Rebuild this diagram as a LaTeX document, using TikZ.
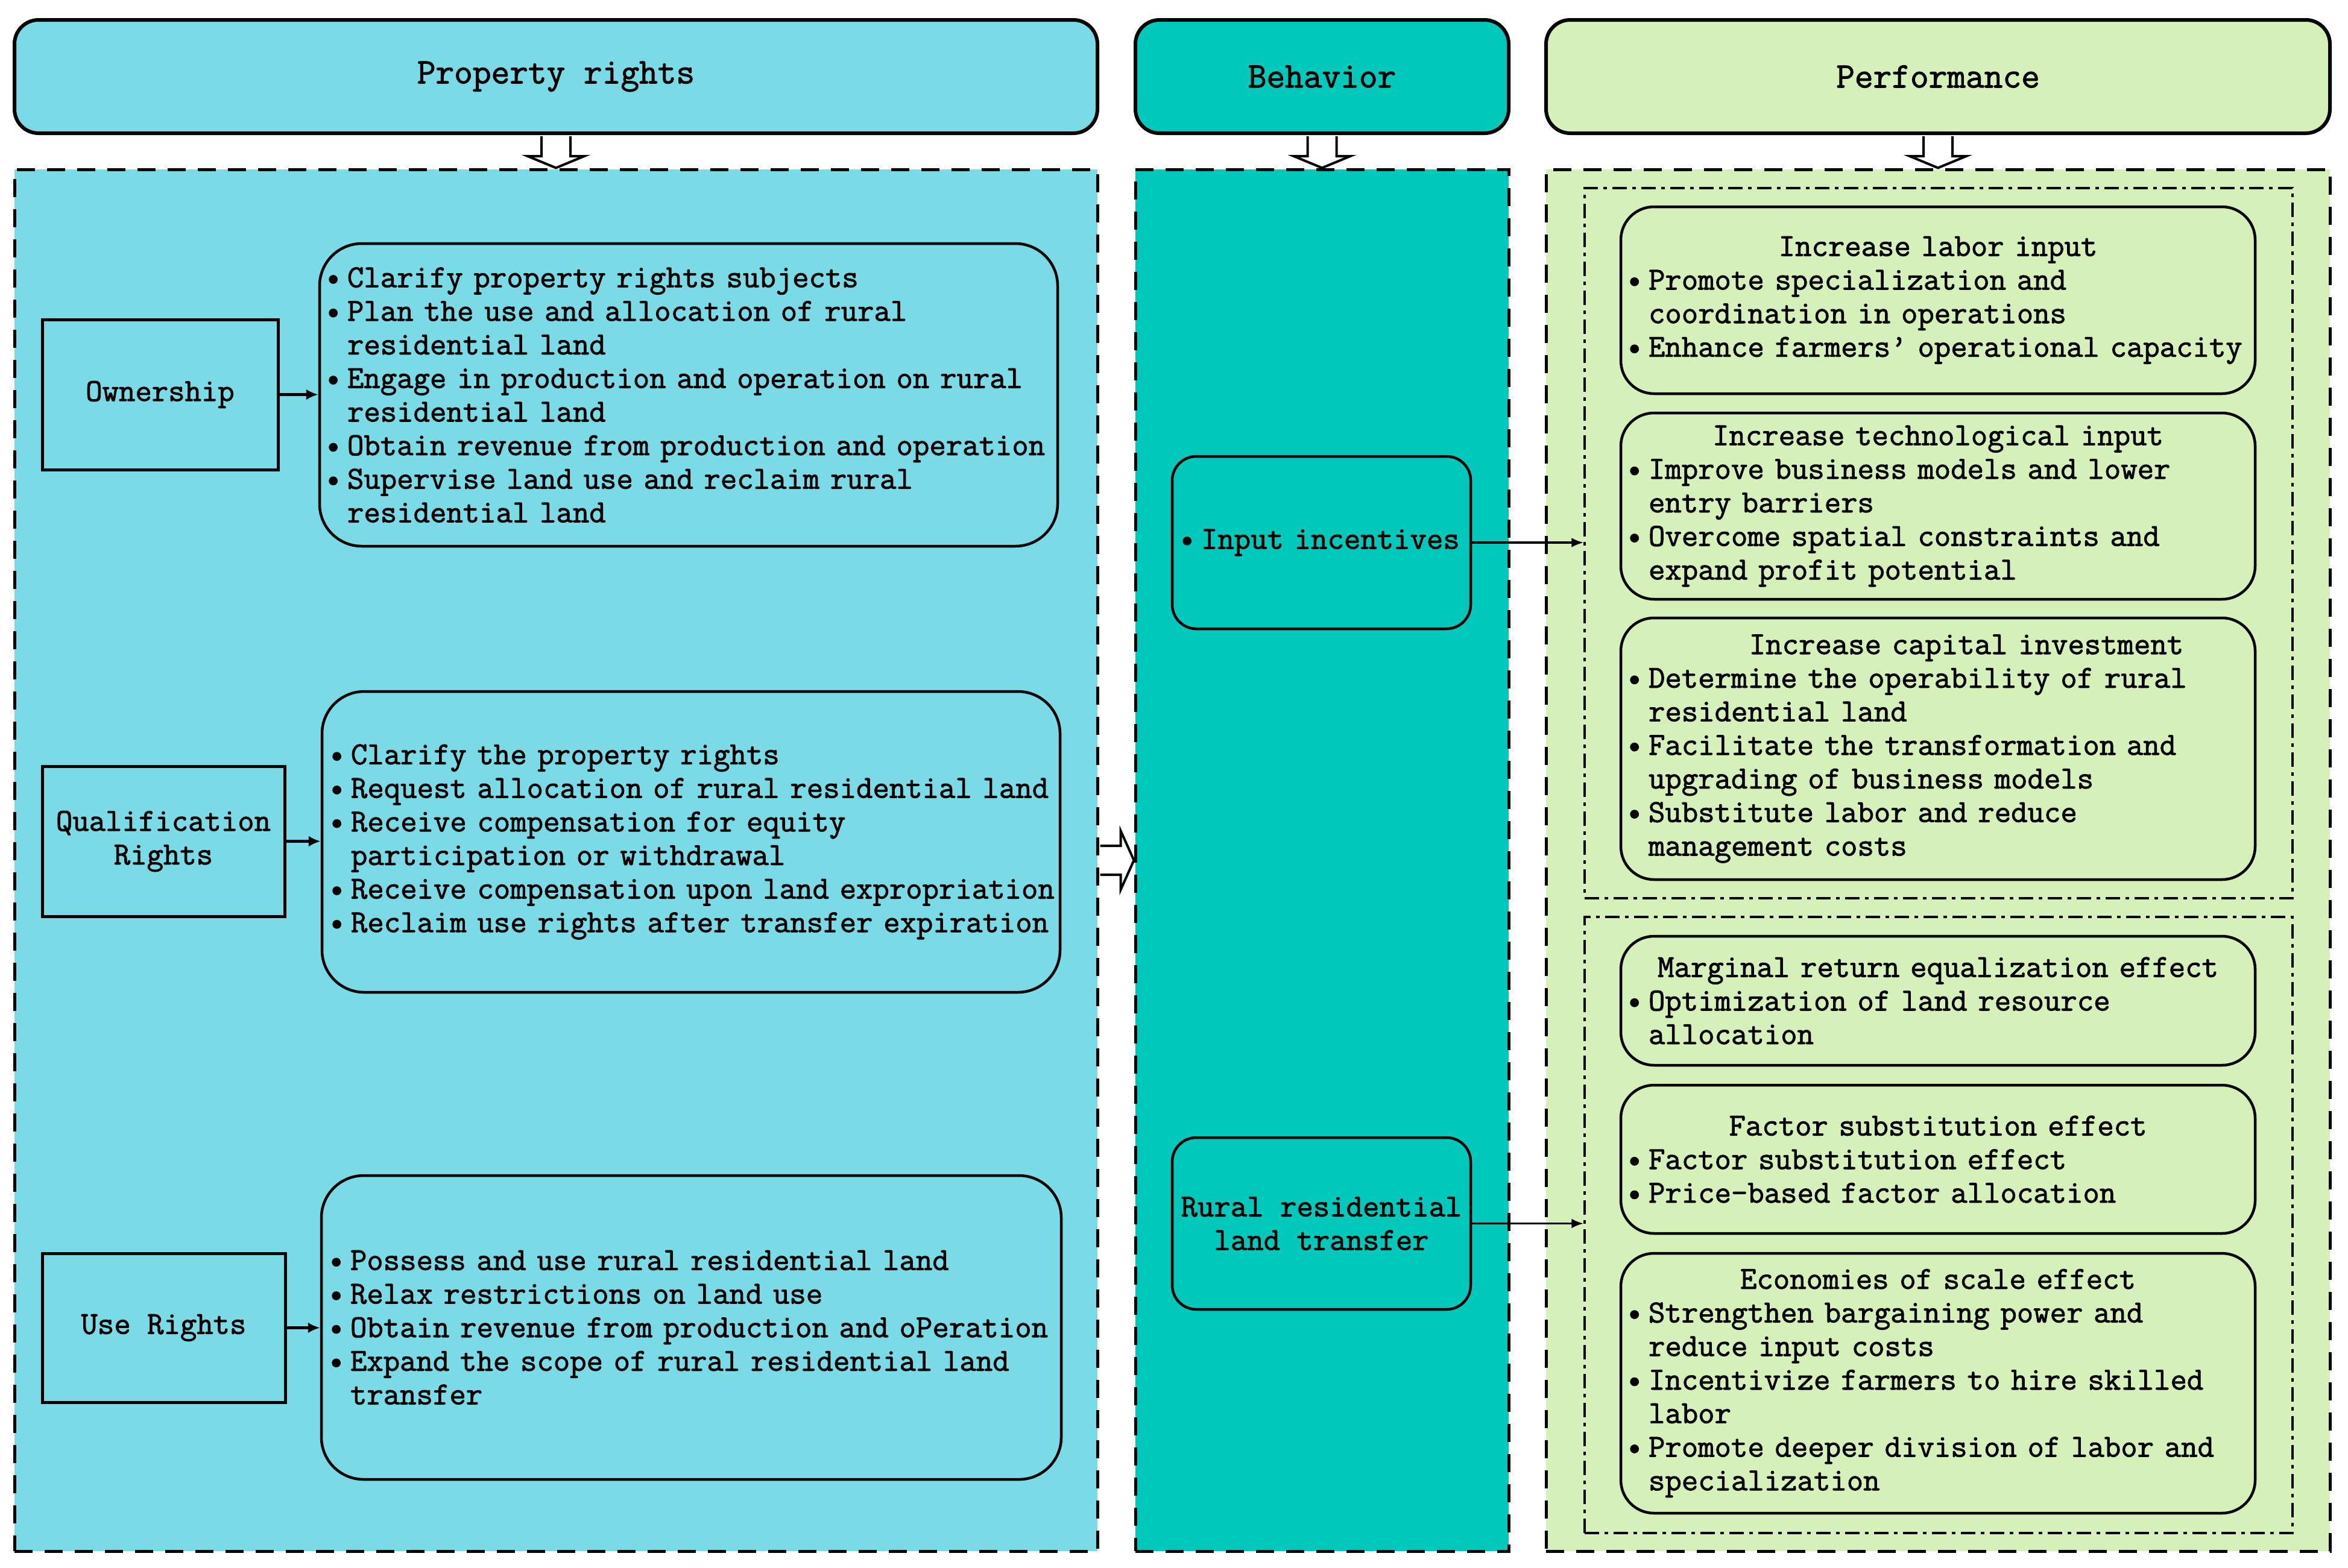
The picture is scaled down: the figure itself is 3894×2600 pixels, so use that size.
\documentclass[tikz,border=0pt]{standalone}
\usepackage{fontspec}
\setmonofont{Latin Modern Mono}[FakeBold=1.8]
\usetikzlibrary{arrows.meta,calc}
\definecolor{cPR}{RGB}{122,218,230}
\definecolor{cBH}{RGB}{0,201,187}
\definecolor{cPF}{RGB}{214,240,186}
\newlength\bw \setlength\bw{40pt}
\newcommand\bul{\makebox[\bw][l]{\hspace*{3pt}•}}
\newcommand\ind{\hspace*{\bw}}
\newcommand\ttl[1]{\makebox[1040pt][c]{#1}}
\newcommand\bodyfont{\ttfamily\fontsize{53.2pt}{55.7pt}\selectfont}
\newcommand\headfont{\ttfamily\fontsize{59.6pt}{64pt}\selectfont}
\tikzset{
  header/.style={draw, line width=6pt, rounded corners=40pt, font=\headfont, inner sep=0pt},
  panel/.style={draw, line width=5pt, dash pattern=on 30pt off 20pt, inner sep=0pt},
  group/.style={draw, line width=3.5pt, dash pattern=on 24pt off 9pt on 6pt off 9pt, inner sep=0pt},
  rbox/.style={draw, line width=5pt, align=center, font=\bodyfont, fill=cPR, inner sep=0pt},
  cbox/.style={draw, line width=4.5pt, rounded corners=70pt, align=left, inner xsep=6pt, inner ysep=0pt, font=\bodyfont, fill=cPR},
  pbox/.style={draw, line width=4.5pt, rounded corners=55pt, align=left, inner xsep=6pt, inner ysep=0pt, font=\bodyfont, fill=cPF, text width=1040pt, minimum width=1052pt},
  bbox/.style={draw, line width=4.5pt, rounded corners=40pt, font=\bodyfont, fill=cBH, inner ysep=0pt},
  barrow/.style={draw, line width=4pt, fill=white, line join=miter},
  conn/.style={line width=4.5pt, -{Latex[length=20pt,width=18pt]}},
  conn2/.style={line width=3.5pt, -{Latex[length=20pt,width=16pt]}},
}
\newcommand\downarr[2]{\draw[barrow] ($(#1.south)+(-24,2)$) -- ++(0,33) -- ++(-23,0) -- (#1.south |- #2.north) -- ($(#1.south)+(47,35)$) -- ++(-23,0) -- ++(0,-33);}
\begin{document}
\begin{tikzpicture}[x=1pt,y=-1pt]
\useasboundingbox[fill=white] (0,0) rectangle (3894,2600);
% headers
\node[header, fill=cPR, minimum width=1796pt, minimum height=188pt] (hPR) at (922,127) {Property rights};
\node[header, fill=cBH, minimum width=619pt, minimum height=188pt] (hB) at (2192.5,127) {Behavior};
\node[header, fill=cPF, minimum width=1300pt, minimum height=188pt] (hP) at (3214,127) {Performance};
% panels
\node[panel, fill=cPR, minimum width=1796pt, minimum height=2292pt] (pPR) at (922,1427) {};
\node[panel, fill=cBH, minimum width=619pt, minimum height=2292pt] (pB) at (2192.5,1427) {};
\node[panel, fill=cPF, minimum width=1300pt, minimum height=2292pt] (pP) at (3214,1427) {};
% block arrows
\downarr{hPR}{pPR}
\downarr{hB}{pB}
\downarr{hP}{pP}
\draw[barrow] ($(pPR.east)+(2,-24)$) -- ++(34,0) -- ++(0,-25) -- (pPR.east -| pB.west) -- ($(pPR.east)+(36,49)$) -- ++(0,-25) -- ++(-34,0);
% left side
\node[rbox, minimum width=391pt, minimum height=249pt] (own) at (265.5,654.5) {Ownership};
\node[rbox, minimum width=402pt, minimum height=249pt] (qual) at (271,1395.5) {Qualification\\Rights};
\node[rbox, minimum width=403pt, minimum height=247pt] (use) at (271.5,2202.5) {Use Rights};
\node[cbox, text width=1212pt, minimum height=502pt] (ownC) at (1142,655) {%
\bul Clarify property rights subjects\\
\bul Plan the use and allocation of rural\\
\ind residential land\\
\bul Engage in production and operation on rural\\
\ind residential land\\
\bul Obtain revenue from production and operation\\
\bul Supervise land use and reclaim rural\\
\ind residential land};
\node[cbox, inner xsep=8pt, text width=1208pt, minimum height=499pt] (qualC) at (1146,1396.5) {%
\bul Clarify the property rights\\
\bul Request allocation of rural residential land\\
\bul Receive compensation for equity\\
\ind participation or withdrawal\\
\bul Receive compensation upon land expropriation\\
\bul Reclaim use rights after transfer expiration};
\node[cbox, inner xsep=8pt, text width=1211pt, minimum height=504pt] (useC) at (1146.5,2202) {%
\bul Possess and use rural residential land\\
\bul Relax restrictions on land use\\
\bul Obtain revenue from production and oPeration\\
\bul Expand the scope of rural residential land\\
\ind transfer};
\draw[conn] (own.east) -- (own.east -| ownC.west);
\draw[conn] (qual.east) -- (qual.east -| qualC.west);
\draw[conn] (use.east) -- (use.east -| useC.west);
% behavior
\node[bbox, align=left, inner xsep=8pt, text width=479pt, minimum height=286pt] (inc) at (2191.5,900) {\bul Input incentives};
\node[bbox, align=center, minimum width=495pt, minimum height=285pt] (rrl) at (2191.5,2029.5) {Rural residential\\land transfer};
% performance groups
\node[group, minimum width=1174pt, minimum height=1178pt] (g1) at (3215,901) {};
\node[group, minimum width=1174pt, minimum height=1022pt] (g2) at (3215,2032) {};
\node[pbox, minimum height=310pt] (lab) at (3214,498) {%
\ttl{Increase labor input}\\
\bul Promote specialization and\\
\ind coordination in operations\\
\bul Enhance farmers’ operational capacity};
\node[pbox, minimum height=309pt] (tech) at (3214,839.5) {%
\ttl{Increase technological input}\\
\bul Improve business models and lower\\
\ind entry barriers\\
\bul Overcome spatial constraints and\\
\ind expand profit potential};
\node[pbox, minimum height=434pt] (cap) at (3214,1242) {%
\ttl{\hspace*{94pt}Increase capital investment}\\
\bul Determine the operability of rural\\
\ind residential land\\
\bul Facilitate the transformation and\\
\ind upgrading of business models\\
\bul Substitute labor and reduce\\
\ind management costs};
\node[pbox, minimum height=214pt] (marg) at (3214,1660) {%
\ttl{Marginal return equalization effect}\\
\bul Optimization of land resource\\
\ind allocation};
\node[pbox, minimum height=246pt] (fact) at (3214,1923) {%
\ttl{Factor substitution effect}\\
\bul Factor substitution effect\\
\bul Price-based factor allocation};
\node[pbox, minimum height=431pt] (econ) at (3214,2294.5) {%
\ttl{Economies of scale effect}\\
\bul Strengthen bargaining power and\\
\ind reduce input costs\\
\bul Incentivize farmers to hire skilled\\
\ind labor\\
\bul Promote deeper division of labor and\\
\ind specialization};
\draw[conn2] (inc.east) -- (inc.east -| g1.west);
\draw[conn2] (rrl.east) -- (rrl.east -| g2.west);
\end{tikzpicture}
\end{document}
